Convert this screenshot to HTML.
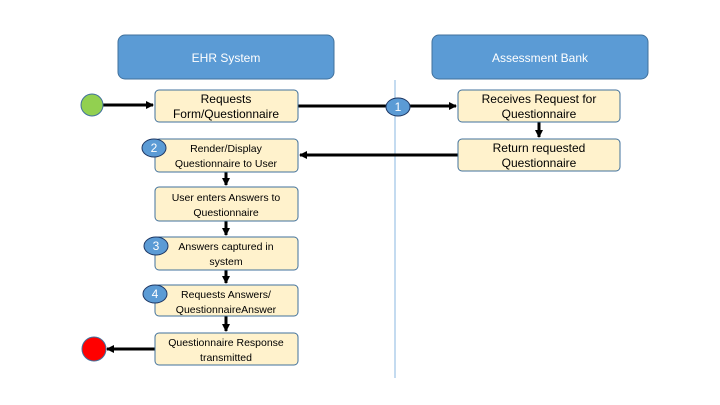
<!DOCTYPE html>
<html><head><meta charset="utf-8"><style>
html,body{margin:0;padding:0;background:#fff;}
svg{display:block;}
text{font-family:"Liberation Sans",sans-serif;}
</style></head><body>
<svg width="720" height="405" viewBox="0 0 720 405" xmlns="http://www.w3.org/2000/svg">
<defs>
<marker id="a" markerWidth="8" markerHeight="8" refX="7" refY="4" orient="auto" markerUnits="userSpaceOnUse">
<path d="M0,0 L8,4 L0,8 z" fill="#000"/></marker>
</defs>
<rect x="118" y="35" width="216" height="44" rx="7" fill="#5b9bd5" stroke="#41719c"/>
<text x="226" y="62" font-size="12" fill="#fff" text-anchor="middle">EHR System</text>
<rect x="432" y="35" width="216" height="44" rx="7" fill="#5b9bd5" stroke="#41719c"/>
<text x="540" y="62" font-size="12" fill="#fff" text-anchor="middle">Assessment Bank</text>
<line x1="395" y1="80" x2="395" y2="378" stroke="#9dc3e6" stroke-width="1.2"/>
<g stroke="#000" stroke-width="3" fill="none">
<line x1="103" y1="105" x2="153" y2="105" marker-end="url(#a)"/>
<line x1="298" y1="106" x2="456" y2="106" marker-end="url(#a)"/>
<line x1="539" y1="122" x2="539" y2="137" marker-end="url(#a)"/>
<line x1="458" y1="155" x2="300" y2="155" marker-end="url(#a)"/>
<line x1="226" y1="172" x2="226" y2="185" marker-end="url(#a)"/>
<line x1="226" y1="221" x2="226" y2="235" marker-end="url(#a)"/>
<line x1="226" y1="270" x2="226" y2="283" marker-end="url(#a)"/>
<line x1="226" y1="316" x2="226" y2="331" marker-end="url(#a)"/>
<line x1="155" y1="349" x2="107" y2="349" marker-end="url(#a)"/>
</g>
<g fill="#fff2cc" stroke="#41719c" stroke-width="1">
<rect x="155" y="90" width="143" height="32" rx="4"/>
<rect x="155" y="139" width="143" height="33" rx="4"/>
<rect x="155" y="187" width="143" height="34" rx="4"/>
<rect x="155" y="237" width="143" height="33" rx="4"/>
<rect x="155" y="285" width="143" height="31" rx="4"/>
<rect x="155" y="333" width="143" height="32" rx="4"/>
<rect x="458" y="90" width="162" height="32" rx="4"/>
<rect x="458" y="139" width="162" height="32" rx="4"/>
</g>
<g font-size="12" text-anchor="middle" fill="#000">
<text x="226" y="103">Requests</text><text x="226" y="118">Form/Questionnaire</text>
<text x="539" y="103">Receives Request for</text><text x="539" y="118">Questionnaire</text>
<text x="539" y="152">Return requested</text><text x="539" y="167">Questionnaire</text>
</g>
<g font-size="10.5" text-anchor="middle" fill="#000">
<text x="226" y="152">Render/Display</text><text x="226" y="167">Questionnaire to User</text>
<text x="226" y="201">User enters Answers to</text><text x="226" y="216">Questionnaire</text>
<text x="226" y="250">Answers captured in</text><text x="226" y="265">system</text>
<text x="226" y="298">Requests Answers/</text><text x="226" y="313">QuestionnaireAnswer</text>
<text x="226" y="346">Questionnaire Response</text><text x="226" y="361">transmitted</text>
</g>
<circle cx="92" cy="105" r="11" fill="#92d050" stroke="#41719c"/>
<circle cx="94" cy="349" r="12" fill="#ff0000" stroke="#41719c"/>
<g fill="#5b9bd5" stroke="#1f3864" stroke-width="1">
<ellipse cx="398" cy="107" rx="12" ry="9"/>
<ellipse cx="154" cy="148" rx="12" ry="9"/>
<ellipse cx="156" cy="246" rx="12" ry="9"/>
<ellipse cx="155" cy="294" rx="12" ry="9"/>
</g>
<g font-size="12" fill="#fff" text-anchor="middle">
<text x="398" y="111">1</text><text x="154" y="152">2</text><text x="156" y="250">3</text><text x="155" y="298">4</text>
</g>
</svg>
</body></html>
